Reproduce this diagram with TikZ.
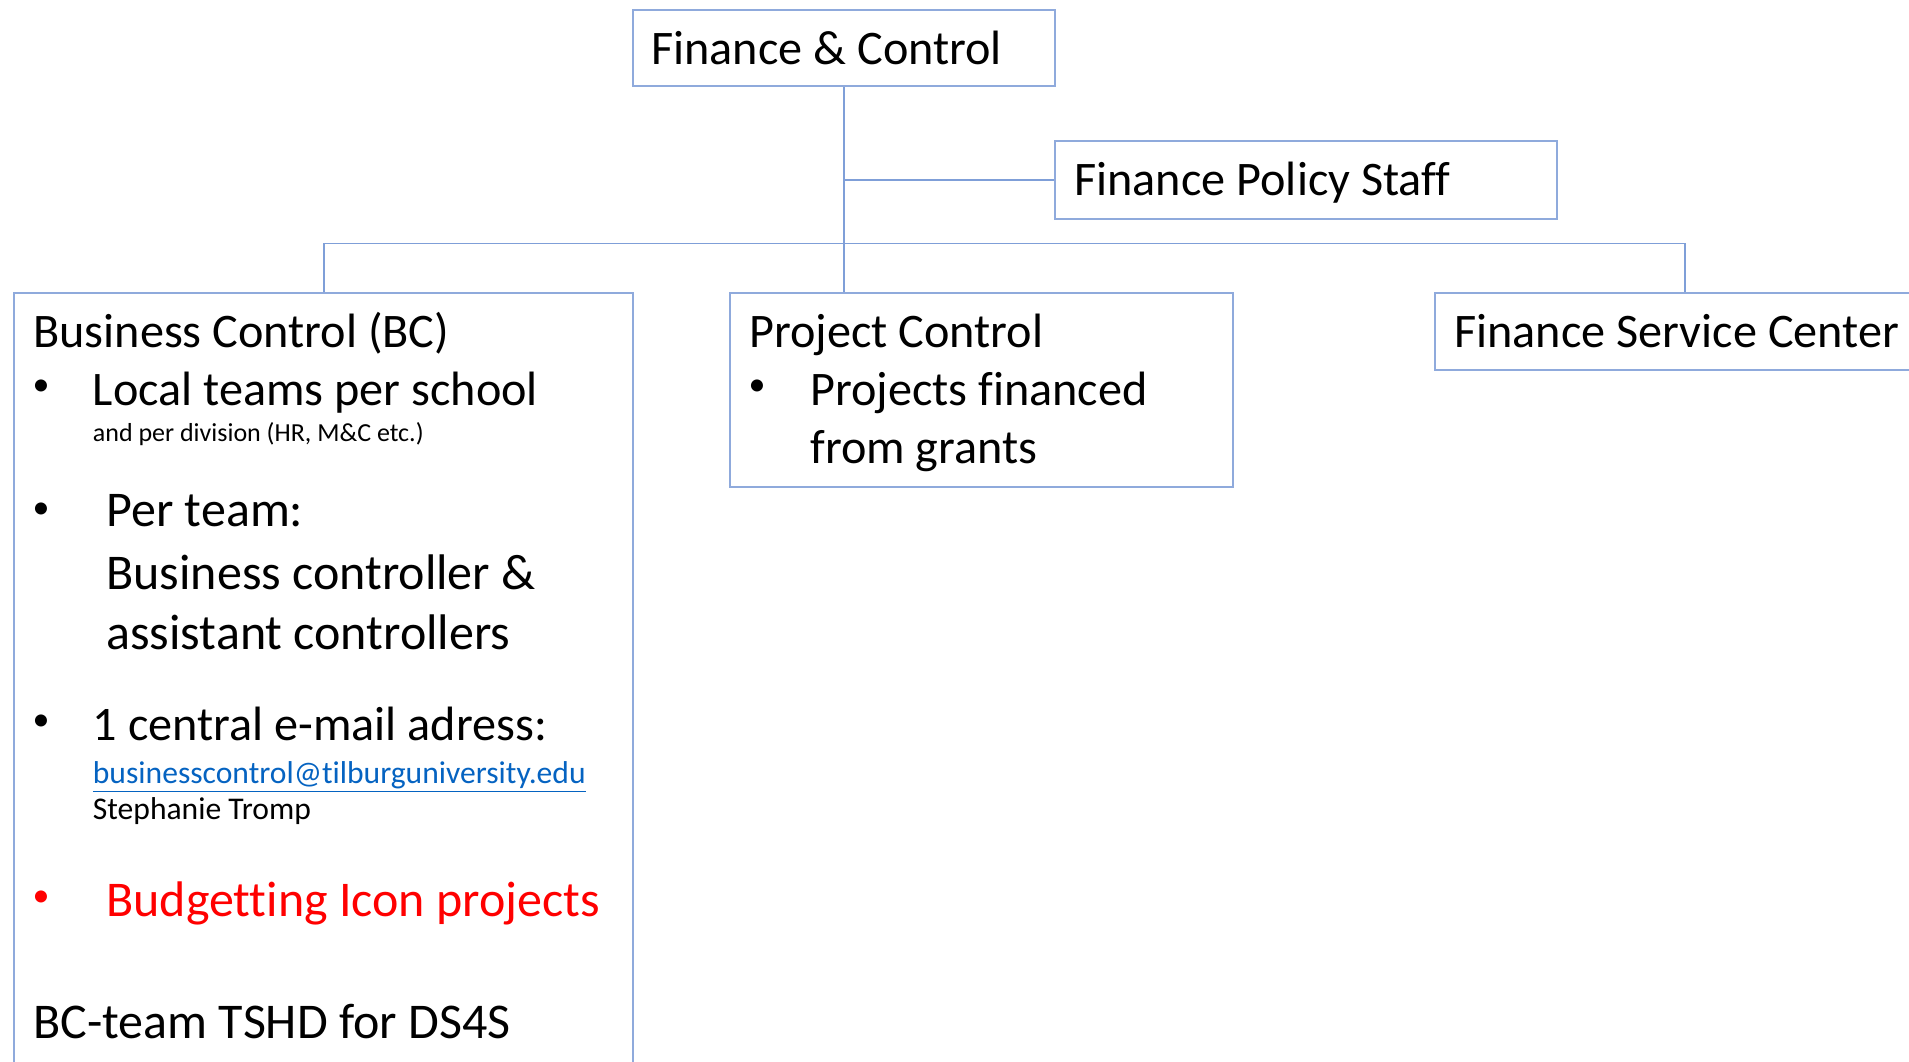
\documentclass[tikz,border=0pt]{standalone}
\usepackage{fontspec}
\setmainfont{Carlito}[Ligatures=NoCommon]
\usetikzlibrary{positioning}
\definecolor{boxblue}{HTML}{8FAADC}
\definecolor{lineblue}{HTML}{7F9FD8}
\definecolor{linkblue}{HTML}{0563C1}

\begin{document}
\begin{tikzpicture}[
  x=0.5pt, y=-0.5pt,
  unit/.style={draw=boxblue, line width=1.2pt, inner sep=0pt, anchor=north west},
  txt/.style={anchor=base west, inner sep=0pt, font=\fontsize{24.1}{29}\selectfont},
  big/.style={anchor=base west, inner sep=0pt, font=\fontsize{25}{30}\selectfont},
  small/.style={anchor=base west, inner sep=0pt, font=\fontsize{13}{15}\selectfont},
  mid/.style={anchor=base west, inner sep=0pt, font=\fontsize{15.8}{19}\selectfont},
  dot/.style={anchor=center, inner sep=0pt, font=\fontsize{17}{20}\selectfont},
  link/.style={draw=lineblue, line width=0.8pt}
]
\useasboundingbox (0,0) rectangle (1909,1061);
\clip (0,0) rectangle (1909,1061);

% boxes
\node[unit, minimum width=211pt, minimum height=38.25pt] (fc) at (632,8.5) {};
\node[unit, minimum width=251pt, minimum height=39pt] (fps) at (1054,140) {};
\node[unit, minimum width=309.5pt, minimum height=404pt] (bc) at (13,292) {};
\node[unit, minimum width=251.5pt, minimum height=97pt] (pc) at (729,292) {};
\node[unit, minimum width=250pt, minimum height=38.5pt] (fsc) at (1434,292) {};

% top units
\node[txt] (fctext) at (651,64.5) {Finance \& Control};
\node[txt] (fpstext) at (1074,195) {Finance Policy Staff};

% business control
\node[txt] (bctitle) at (33,347) {Business Control (BC)};
\node[dot] (b1) at (41,388) {•};
\node[txt] (bc1) at (92.5,405) {Local teams per school};
\node[small] (bc1s) at (92.5,441) {and per division (HR, M\&C etc.)};
\node[dot] (b2) at (41,511) {•};
\node[big] (bc2) at (106,526) {Per team:};
\node[big] (bc2b) at (106,589) {Business controller \&};
\node[big] (bc2c) at (106,649) {assistant controllers};
\node[dot] (b3) at (41,723) {•};
\node[txt] (bc3) at (92.5,740) {1 central e-mail adress:};
\node[mid, text=linkblue] (mail) at (92.5,783) {\underline{businesscontrol@tilburguniversity.edu}};
\node[mid] (contact) at (92.5,819) {Stephanie Tromp};
\node[dot, text=red] (b4) at (41,898.5) {•};
\node[big, text=red] (bc4) at (106,916) {Budgetting Icon projects};
\node[big] (bcteam) at (33,1038.5) {BC-team TSHD for DS4S};

% project control
\node[txt] (pctitle) at (749,347) {Project Control};
\node[dot] (b5) at (757,388) {•};
\node[txt] (pc1) at (810,405) {Projects financed};
\node[txt] (pc1b) at (810,463) {from grants};

% finance service center
\node[txt] (fsctext) at (1454,347) {Finance Service Center};

% connectors
\coordinate (bus) at (842,243.5);
\draw[link] (fc.south) -- (fc.south |- pc.north);
\draw[link] (fc.south |- fps.west) -- (fps.west);
\draw[link] (bc.north) |- (bus) -| (fsc.north);

\end{tikzpicture}
\end{document}
